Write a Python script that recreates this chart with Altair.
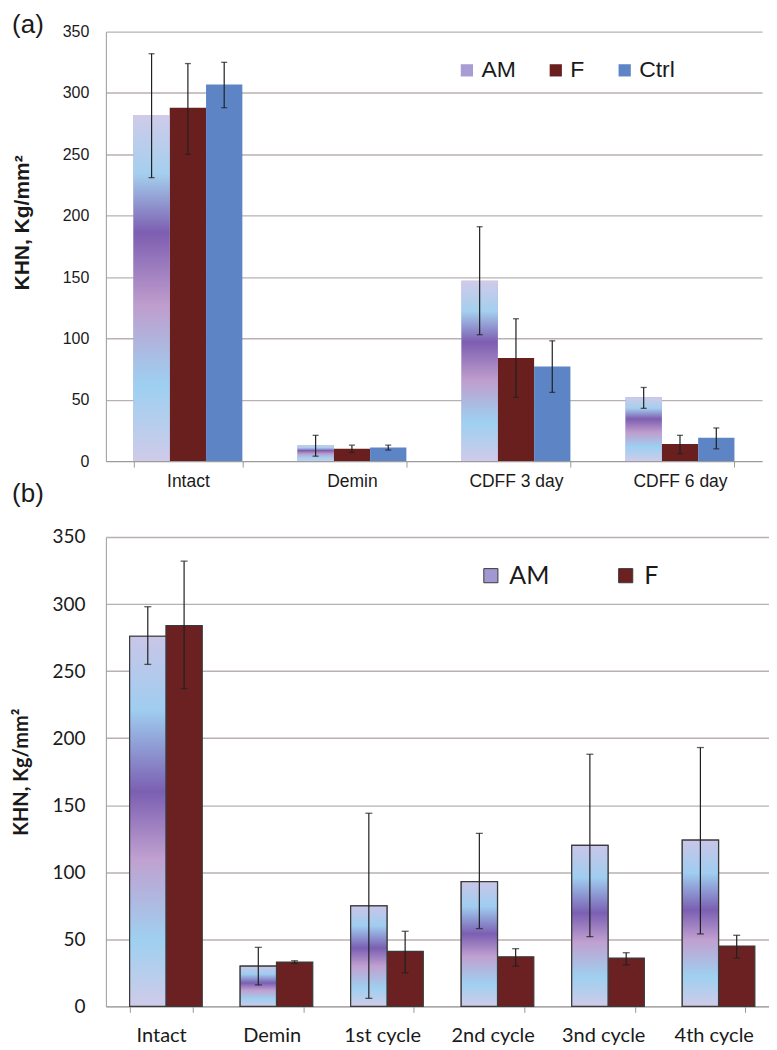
import altair as alt
import pandas as pd

# ---------------- Panel (a) data ----------------
a_cats = ["Intact", "Demin", "CDFF 3 day", "CDFF 6 day"]
a_series = ["AM", "F", "Ctrl"]
a_AM = [282, 13, 147, 52]
a_AM_lo = [231, 4, 103, 43]
a_AM_hi = [332, 21, 191, 60]
a_F = [288, 10, 84, 14]
a_F_lo = [250, 7, 52, 6]
a_F_hi = [324, 13, 116, 21]
a_Ctrl = [307, 11, 77, 19]
a_Ctrl_lo = [288, 9, 56, 10]
a_Ctrl_hi = [325, 13, 98, 27]

# ---------------- Panel (b) data ----------------
b_cats = ["Intact", "Demin", "1st cycle", "2nd cycle", "3nd cycle", "4th cycle"]
b_series = ["AM", "F"]
b_AM = [276, 30, 75, 93, 120, 124]
b_AM_lo = [255, 16, 6, 58, 52, 54]
b_AM_hi = [298, 44, 144, 129, 188, 193]
b_F = [284, 33, 41, 37, 36, 45]
b_F_lo = [237, 32, 25, 30, 31, 36]
b_F_hi = [332, 34, 56, 43, 40, 53]

y_ticks = [0, 50, 100, 150, 200, 250, 300, 350]


def build(cats, series_data):
    rows = []
    for name, (vals, los, his) in series_data.items():
        for c, v, lo, hi in zip(cats, vals, los, his):
            rows.append({"cat": c, "series": name, "val": v, "lo": lo, "hi": hi})
    return pd.DataFrame(rows)


dfa = build(a_cats, {"AM": (a_AM, a_AM_lo, a_AM_hi),
                     "F": (a_F, a_F_lo, a_F_hi),
                     "Ctrl": (a_Ctrl, a_Ctrl_lo, a_Ctrl_hi)})
dfb = build(b_cats, {"AM": (b_AM, b_AM_lo, b_AM_hi),
                     "F": (b_F, b_F_lo, b_F_hi)})

grad_a = alt.Gradient(
    gradient="linear", x1=0, y1=0, x2=0, y2=1,
    stops=[
        alt.GradientStop(color="#cfcbe9", offset=0),
        alt.GradientStop(color="#a4cfee", offset=0.17),
        alt.GradientStop(color="#7d5eb1", offset=0.34),
        alt.GradientStop(color="#bf9dcd", offset=0.55),
        alt.GradientStop(color="#9dd0f1", offset=0.78),
        alt.GradientStop(color="#cfcbe9", offset=1),
    ],
)
grad_b = alt.Gradient(
    gradient="linear", x1=0, y1=0, x2=0, y2=1,
    stops=[
        alt.GradientStop(color="#c9c6e8", offset=0),
        alt.GradientStop(color="#9fcdf0", offset=0.2),
        alt.GradientStop(color="#7b5fb2", offset=0.42),
        alt.GradientStop(color="#c0a0d0", offset=0.6),
        alt.GradientStop(color="#9fd0f0", offset=0.82),
        alt.GradientStop(color="#cfcbe9", offset=1),
    ],
)

GRID = "#b9b1b1"
AXC = "#9a9a9a"
TXT = "#1a1a1a"


def panel(df, cats, series, colors, grad, pi, width, height, legend_kw,
          yaxis_kw, xaxis_kw, bar_stroke=None, cap=7):
    xa = alt.X("cat:N", sort=cats,
               scale=alt.Scale(paddingInner=pi, paddingOuter=pi / 2),
               axis=alt.Axis(title=None, labelAngle=0, tickBand="extent",
                             tickSize=6, tickColor=AXC, domainColor=AXC,
                             labelColor=TXT, **xaxis_kw))

    def ya(field):
        return alt.Y(field, type="quantitative",
                     scale=alt.Scale(domain=[0, 350], nice=False),
                     axis=alt.Axis(values=y_ticks, title="KHN, Kg/mm²",
                                   ticks=False, domainColor=AXC,
                                   gridColor=GRID, gridWidth=1.4,
                                   labelColor=TXT, titleColor=TXT,
                                   titleFontWeight="bold", **yaxis_kw))

    xo = alt.XOffset("series:N", sort=series,
                     scale=alt.Scale(domain=series, paddingInner=0, paddingOuter=0))
    col = alt.Color("series:N",
                    scale=alt.Scale(domain=series, range=colors),
                    legend=alt.Legend(title=None, orient="none",
                                      direction="horizontal", symbolType="square",
                                      labelColor=TXT, padding=0, **legend_kw))
    base = alt.Chart(df)
    bar_kw = {}
    if bar_stroke:
        bar_kw = dict(stroke=bar_stroke, strokeWidth=1.2)
    bars = base.mark_bar(**bar_kw).encode(x=xa, xOffset=xo, y=ya("val"), color=col)
    am = base.transform_filter("datum.series == 'AM'").mark_bar(
        fill=grad, **bar_kw).encode(x=xa, xOffset=xo, y=ya("val"))
    err = base.mark_rule(color="#202020", strokeWidth=1.2).encode(
        x=xa, xOffset=xo, y=ya("lo"), y2="hi:Q")
    cap_hi = base.mark_tick(color="#202020", thickness=1.3, size=cap).encode(
        x=xa, xOffset=xo, y=ya("hi"))
    cap_lo = base.mark_tick(color="#202020", thickness=1.3, size=cap).encode(
        x=xa, xOffset=xo, y=ya("lo"))
    return alt.layer(bars, am, err, cap_hi, cap_lo).properties(width=width, height=height)


top = panel(
    dfa, a_cats, a_series, ["#a99bd4", "#6a1f1f", "#5d85c6"], grad_a,
    pi=0.336, width=657, height=430,
    legend_kw=dict(legendX=350, legendY=27, labelFont="Liberation Sans",
                   labelFontSize=23, symbolSize=150, labelOffset=3,
                   columnPadding=28, symbolStrokeWidth=0),
    yaxis_kw=dict(labelFont="Liberation Sans", labelFontSize=16, labelPadding=17,
                  minExtent=44, maxExtent=44, titlePadding=29,
                  titleFont="Liberation Sans", titleFontSize=21, titleY=191),
    xaxis_kw=dict(labelFont="Liberation Sans", labelFontSize=17.5, labelPadding=5),
    cap=6,
)

labels_df = pd.DataFrame({"t": ["(a)", "(b)"], "yy": [-7, 463]})
panel_labels = alt.Chart(labels_df).mark_text(
    font="Liberation Sans", fontSize=26, color=TXT, baseline="middle", align="center"
).encode(text="t:N", x=alt.value(-78), y=alt.Y("yy:Q", scale=None))

top = alt.layer(top, panel_labels)

bottom = panel(
    dfb, b_cats, b_series, ["#a197d1", "#6b2121"], grad_b,
    pi=0.43, width=664, height=470,
    legend_kw=dict(legendX=373, legendY=26, labelFont="Lato",
                   labelFontSize=25, symbolSize=200, labelOffset=6,
                   columnPadding=63, symbolStrokeColor="#3a3a3a",
                   symbolStrokeWidth=1),
    yaxis_kw=dict(labelFont="Lato", labelFontSize=19, labelPadding=21,
                  minExtent=54, maxExtent=54, titlePadding=20,
                  titleFont="Lato", titleFontSize=20),
    xaxis_kw=dict(labelFont="Lato", labelFontSize=20, labelPadding=13),
    bar_stroke="#3a3a3a",
    cap=7,
)

chart = alt.vconcat(top, bottom, spacing=21).resolve_scale(
    x="independent", y="independent", color="independent"
).resolve_legend(color="independent").properties(
    padding={"left": 4, "top": 3, "right": 0, "bottom": 0}
).configure_view(stroke=None)

chart.save("out.html", embed_options={"renderer": "svg", "actions": False})
